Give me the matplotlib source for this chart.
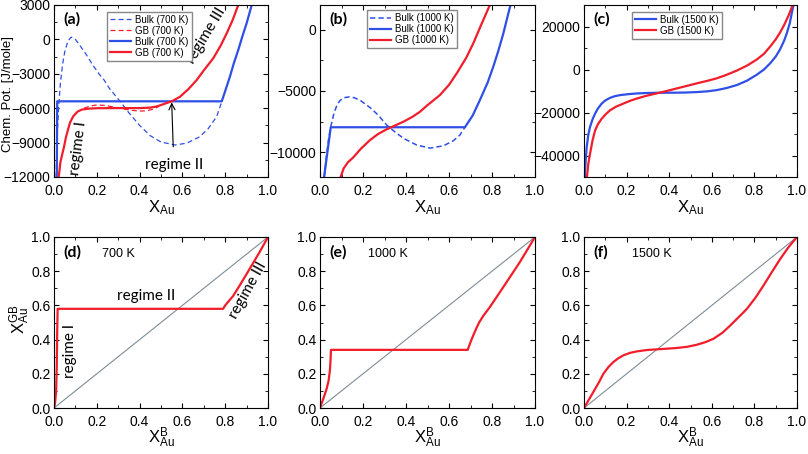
import numpy as np
import matplotlib as mpl
mpl.use("Agg")
import matplotlib.pyplot as plt
from matplotlib.ticker import MultipleLocator

mpl.rcParams.update({
    "font.family": ["Liberation Sans", "DejaVu Sans"],
    "font.size": 10,
    "mathtext.fontset": "custom",
    "mathtext.rm": "Liberation Sans",
    "mathtext.it": "Liberation Sans:italic",
    "mathtext.bf": "Liberation Sans:bold",
    "mathtext.default": "rm",
    "xtick.direction": "in",
    "ytick.direction": "in",
    "xtick.top": True,
    "ytick.right": True,
    "xtick.major.size": 3.5,
    "ytick.major.size": 3.5,
    "xtick.minor.size": 2,
    "ytick.minor.size": 2,
    "axes.linewidth": 0.8,
})

blue = '#2f4fe6'
red = '#f21d2b'
grey = '#7d8d98'

# ---- panel (a), 700 K ----
a_bulk_dash_x = [0.010, 0.013, 0.017, 0.022, 0.03, 0.04, 0.05, 0.065, 0.08, 0.10, 0.12, 0.15,
                 0.18, 0.21, 0.234, 0.26, 0.31, 0.35, 0.40, 0.45, 0.50, 0.565, 0.62, 0.68,
                 0.72, 0.76, 0.784]
a_bulk_dash_y = [-12000, -9800, -7600, -5800, -3800, -2200, -1100, -150, 200, 0, -500, -1300,
                 -2200, -3000, -3540, -4300, -5430, -6400, -7500, -8400, -8950, -9210, -9050, -8500,
                 -7800, -6740, -5430]
a_gb_dash_x = [0.14, 0.17, 0.20, 0.24, 0.28, 0.32, 0.36, 0.40, 0.43, 0.46, 0.49]
a_gb_dash_y = [-6000, -5800, -5720, -5760, -5900, -6050, -6180, -6250, -6230, -6100, -5850]
a_bulk_x = [0.013, 0.015, 0.784, 0.80, 0.822, 0.84, 0.861, 0.88, 0.90, 0.924, 0.93]
a_bulk_y = [-12000, -5400, -5400, -4500, -3250, -2100, -925, 250, 1400, 3000, 3400]
a_gb_x = [0.022, 0.03, 0.04, 0.047, 0.055, 0.065, 0.075, 0.09, 0.11, 0.13, 0.16, 0.20, 0.30,
          0.40, 0.45, 0.48, 0.50, 0.55, 0.589, 0.63, 0.667, 0.70, 0.744, 0.78, 0.807, 0.835,
          0.861, 0.87]
a_gb_y = [-12000, -10700, -9900, -9360, -8600, -7900, -7250, -6700, -6300, -6120, -6040, -6000, -5990,
          -5990, -5950, -5850, -5720, -5400, -5000, -4300, -3540, -2700, -1650, -500, 530, 1700,
          3000, 3500]

# ---- panel (b), 1000 K ----
b_bulk_dash_x = [0.02, 0.03, 0.04, 0.05, 0.065, 0.08, 0.093, 0.11, 0.136, 0.16, 0.19, 0.233,
                 0.27, 0.31, 0.35, 0.388, 0.45, 0.512, 0.574, 0.62, 0.65, 0.674]
b_bulk_dash_y = [-12000, -10300, -8900, -7900, -6800, -6100, -5780, -5550, -5480, -5550, -5800, -6350,
                 -6950, -7770, -8350, -8850, -9400, -9650, -9460, -9050, -8600, -7950]
b_bulk_x = [0.019, 0.05, 0.674, 0.71, 0.744, 0.78, 0.806, 0.83, 0.853, 0.87, 0.884, 0.888]
b_bulk_y = [-12000, -7950, -7950, -7000, -5730, -4300, -3020, -1700, -300, 900, 1860, 2100]
b_gb_x = [0.096, 0.11, 0.13, 0.155, 0.19, 0.233, 0.27, 0.31, 0.35, 0.388, 0.43, 0.465, 0.50,
          0.558, 0.60, 0.636, 0.68, 0.713, 0.75, 0.79, 0.795]
b_gb_y = [-12000, -11300, -10800, -10400, -9700, -8990, -8500, -8120, -7800, -7500, -7100, -6690, -6150,
          -5330, -4500, -3560, -2300, -1120, 400, 2000, 2200]

# ---- panel (c), 1500 K ----
c_bulk_x = [0.004, 0.008, 0.0125, 0.02, 0.028, 0.04, 0.052, 0.065, 0.083, 0.10, 0.122, 0.145,
            0.17, 0.21, 0.248, 0.29, 0.34, 0.39, 0.436, 0.48, 0.53, 0.58, 0.624, 0.67, 0.718,
            0.765, 0.81, 0.845, 0.875, 0.90, 0.92, 0.94, 0.953, 0.966, 0.976, 0.986]
c_bulk_y = [-50000, -42000, -36200, -30500, -26800, -23200, -20500, -18200, -15850, -14400, -13200, -12400,
            -11900, -11450, -11140, -10950, -10830, -10800, -10780, -10700, -10500, -10150, -9570, -8600, -7220,
            -5200, -2500, 0, 2980, 6000, 9260, 13500, 17100, 21500, 26500, 31000]
c_gb_x = [0.014, 0.02, 0.028, 0.04, 0.052, 0.065, 0.083, 0.10, 0.122, 0.15, 0.185, 0.215,
          0.248, 0.29, 0.34, 0.39, 0.436, 0.48, 0.53, 0.58, 0.624, 0.67, 0.718, 0.765, 0.81,
          0.845, 0.875, 0.90, 0.92, 0.94, 0.96, 0.972, 0.982]
c_gb_y = [-50000, -44000, -39400, -33000, -28400, -25500, -22900, -21000, -19000, -17300, -15850, -14600,
          -13500, -12300, -11140, -9950, -8790, -7700, -6430, -5250, -4080, -2450, -470, 1800, 4550,
          7300, 10800, 14000, 17100, 20800, 25000, 28000, 31000]

# ---- panels (d)-(f): GB vs bulk composition ----
d_x = [0.0, 0.005, 0.01, 0.013, 0.015, 0.017, 0.79, 0.80, 0.82, 0.837, 0.868, 0.915, 0.96, 1.0]
d_y = [0.0, 0.03, 0.10, 0.25, 0.45, 0.58, 0.58, 0.60, 0.63, 0.655, 0.717, 0.815, 0.91, 1.0]
e_x = [0.0, 0.0155, 0.031, 0.04, 0.046, 0.049, 0.051, 0.687, 0.70, 0.713, 0.725, 0.74, 0.76,
       0.79, 0.853, 0.93, 1.0]
e_y = [0.0, 0.055, 0.113, 0.16, 0.22, 0.28, 0.34, 0.34, 0.385, 0.425, 0.46, 0.50, 0.54,
       0.59, 0.708, 0.854, 1.0]
f_x = [0.0, 0.02, 0.044, 0.07, 0.091, 0.115, 0.138, 0.16, 0.185, 0.215, 0.248, 0.295, 0.342,
       0.39, 0.436, 0.485, 0.53, 0.57, 0.608, 0.65, 0.687, 0.725, 0.765, 0.805, 0.843, 0.882,
       0.922, 0.96, 1.0]
f_y = [0.0, 0.043, 0.094, 0.15, 0.20, 0.24, 0.269, 0.29, 0.308, 0.322, 0.331, 0.339, 0.343,
       0.347, 0.351, 0.358, 0.37, 0.385, 0.405, 0.44, 0.483, 0.53, 0.58, 0.645, 0.717, 0.795,
       0.873, 0.94, 1.0]
diag = [0.0, 1.0]

fig = plt.figure(figsize=(8.08, 4.54), dpi=100)
W, H = 808.0, 454.0
cols = [(54, 268), (320, 535), (584, 797)]
rows = [(5, 177), (237, 408)]
axs = {}
names = ['a', 'b', 'c', 'd', 'e', 'f']
for r, (t, b) in enumerate(rows):
    for c, (l, rr) in enumerate(cols):
        axs[names[r * 3 + c]] = fig.add_axes([l / W, 1 - b / H, (rr - l) / W, (b - t) / H])

lbl_font = dict(family=['Lato', 'DejaVu Sans'], fontweight='bold', fontsize=11.5)
reg_font = dict(family=['Lato', 'DejaVu Sans'], fontsize=11)
leg_kw = dict(fontsize=7, handlelength=2.2, labelspacing=0.1, borderpad=0.3, handletextpad=0.4,
              fancybox=False, edgecolor='#888888', framealpha=1, borderaxespad=0)

# (a)
ax = axs['a']
ax.plot(a_bulk_dash_x, a_bulk_dash_y, '--', color=blue, lw=0.9, dashes=(4, 2.5), label='Bulk (700 K)')
ax.plot(a_gb_dash_x, a_gb_dash_y, '--', color=red, lw=0.9, dashes=(4, 2.5), label='GB (700 K)')
ax.plot(a_bulk_x, a_bulk_y, color=blue, lw=1.6, label='Bulk (700 K)')
ax.plot(a_gb_x, a_gb_y, color=red, lw=1.6, label='GB (700 K)')
ax.set_ylim(-12000, 3000)
ax.yaxis.set_major_locator(MultipleLocator(3000))
ax.yaxis.set_minor_locator(MultipleLocator(1500))
ax.set_ylabel('Chem. Pot. [J/mole]', fontsize=9.5)
ax.yaxis.set_label_coords(-0.185, 0.48)
ax.text(0.045, 0.96, '(a)', transform=ax.transAxes, va='top', **lbl_font)
ax.text(0.115, -9500, 'regime I', rotation=83, ha='center', va='center', **reg_font)
ax.text(0.71, 350, 'regime III', rotation=59, ha='center', va='center', **reg_font)
ax.annotate('regime II', xy=(0.55, -5500), xytext=(0.56, -10950), ha='center', va='center',
            arrowprops=dict(arrowstyle='->', color='black', lw=0.8, shrinkA=6, shrinkB=0), **reg_font)
ax.legend(loc='upper left', bbox_to_anchor=(0.248, 0.96), **leg_kw)

# (b)
ax = axs['b']
ax.plot(b_bulk_dash_x, b_bulk_dash_y, '--', color=blue, lw=1.1, dashes=(3.5, 2), label='Bulk (1000 K)')
ax.plot(b_bulk_x, b_bulk_y, color=blue, lw=1.6, label='Bulk (1000 K)')
ax.plot(b_gb_x, b_gb_y, color=red, lw=1.6, label='GB (1000 K)')
ax.set_ylim(-12000, 2000)
ax.yaxis.set_major_locator(MultipleLocator(5000))
ax.yaxis.set_minor_locator(MultipleLocator(2500))
ax.text(0.045, 0.96, '(b)', transform=ax.transAxes, va='top', **lbl_font)
ax.legend(loc='upper left', bbox_to_anchor=(0.219, 0.97), **leg_kw)

# (c)
ax = axs['c']
ax.plot(c_bulk_x, c_bulk_y, color=blue, lw=1.6, label='Bulk (1500 K)')
ax.plot(c_gb_x, c_gb_y, color=red, lw=1.6, label='GB (1500 K)')
ax.set_ylim(-50000, 30000)
ax.yaxis.set_major_locator(MultipleLocator(20000))
ax.yaxis.set_minor_locator(MultipleLocator(10000))
ax.text(0.045, 0.96, '(c)', transform=ax.transAxes, va='top', **lbl_font)
ax.legend(loc='upper left', bbox_to_anchor=(0.225, 0.96), **leg_kw)

for k in ['a', 'b', 'c']:
    axs[k].set_xlabel('X$_{Au}$', fontsize=12)
    axs[k].xaxis.set_label_coords(0.5, -0.125)

# (d)-(f)
for k, xs, ys, temp in [('d', d_x, d_y, '700 K'), ('e', e_x, e_y, '1000 K'), ('f', f_x, f_y, '1500 K')]:
    ax = axs[k]
    ax.plot(diag, diag, color=grey, lw=0.8)
    ax.plot(xs, ys, color=red, lw=1.6)
    ax.set_ylim(0, 1)
    ax.yaxis.set_major_locator(MultipleLocator(0.2))
    ax.yaxis.set_minor_locator(MultipleLocator(0.1))
    ax.text(0.045, 0.955, '(%s)' % k, transform=ax.transAxes, va='top', **lbl_font)
    ax.text(0.225, 0.9, temp, transform=ax.transAxes, va='center', fontsize=9)
    ax.set_xlabel('X$_{Au}^{B}$', fontsize=12)
    ax.xaxis.set_label_coords(0.5, -0.1)

axs['d'].set_ylabel('X$_{Au}^{GB}$', fontsize=12)
axs['d'].yaxis.set_label_coords(-0.105, 0.52)
axs['d'].text(0.43, 0.655, 'regime II', ha='center', va='center', **reg_font)
axs['d'].text(0.075, 0.335, 'regime I', rotation=90, ha='center', va='center', **reg_font)
axs['d'].text(0.905, 0.69, 'regime III', rotation=61, ha='center', va='center', **reg_font)

for ax in axs.values():
    ax.set_xlim(0, 1)
    ax.xaxis.set_major_locator(MultipleLocator(0.2))
    ax.xaxis.set_minor_locator(MultipleLocator(0.1))
    ax.tick_params(which='both', top=True, right=True, labelsize=10)
    ax.tick_params(axis='x', which='major', pad=5)
    ax.tick_params(axis='y', which='major', pad=2.5)

fig.savefig('out.png', dpi=100)
